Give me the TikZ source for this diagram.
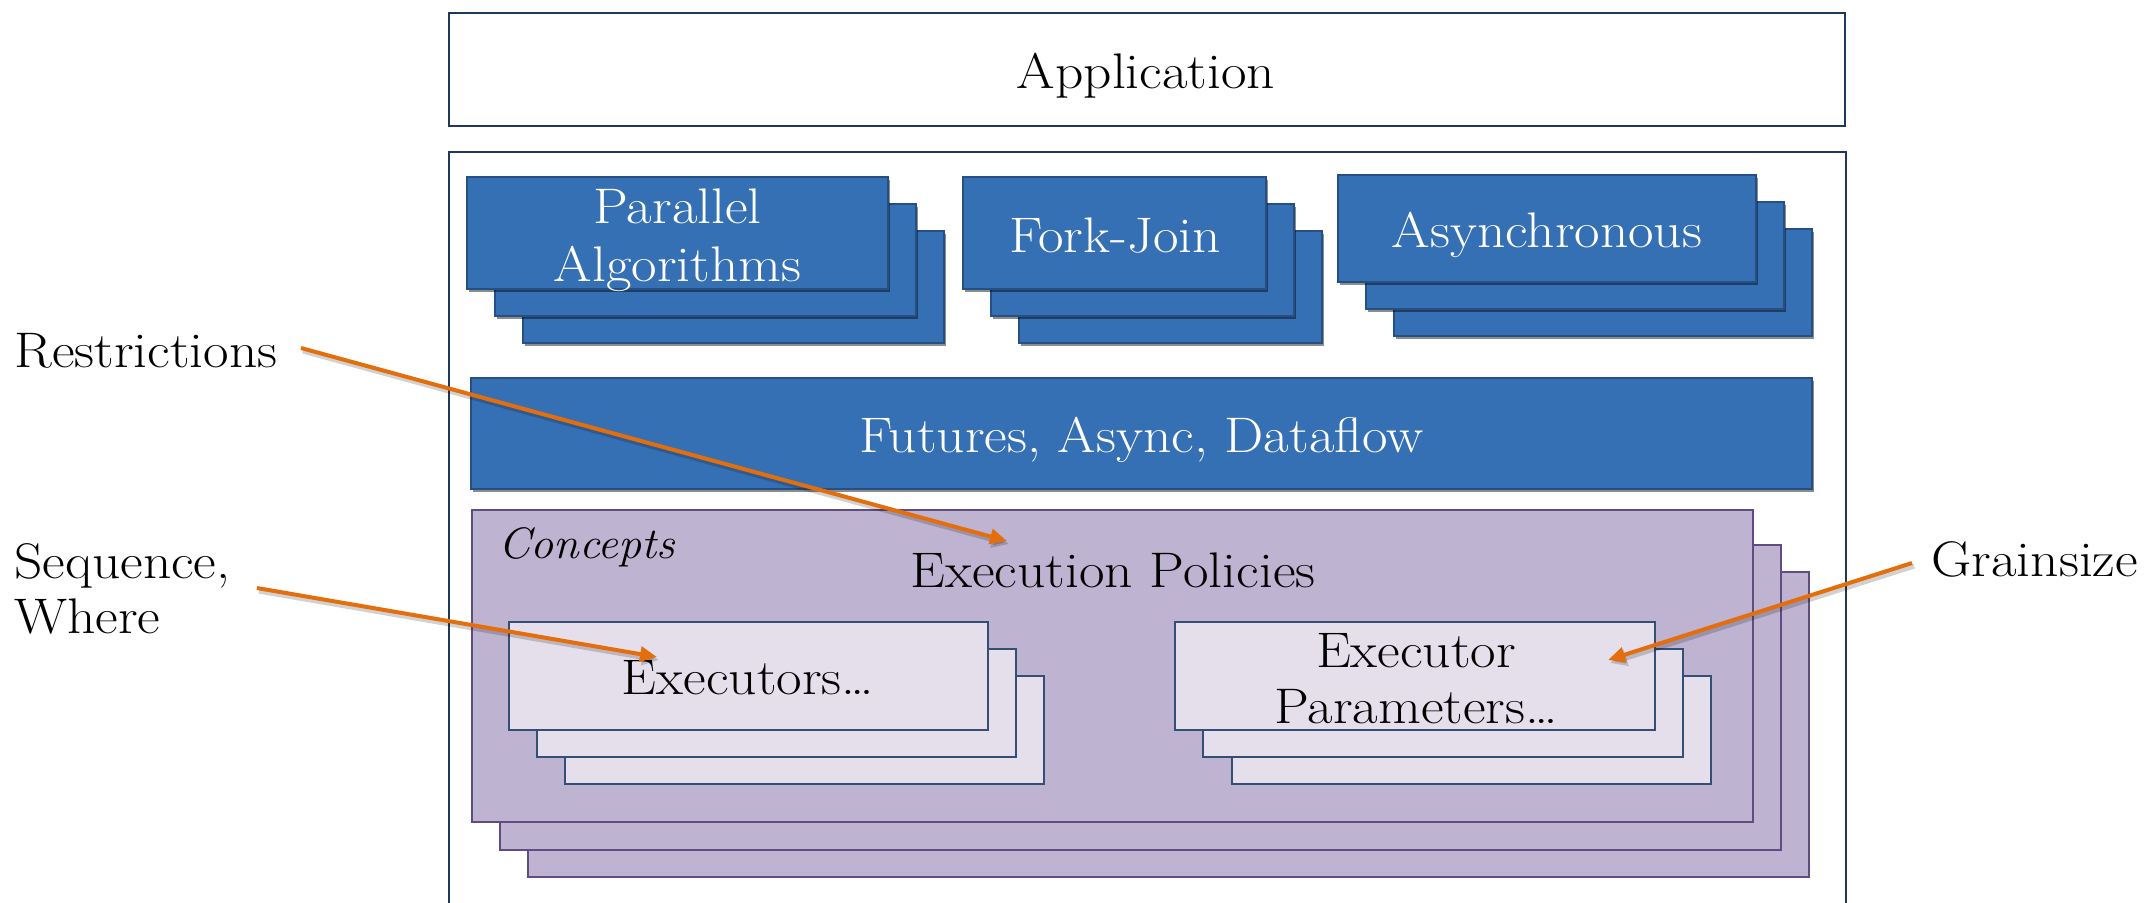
\documentclass[tikz,border=0pt]{standalone}
\usepackage{graphicx}
\usetikzlibrary{shadows,arrows.meta}
\definecolor{bluefill}{RGB}{54,112,180}
\definecolor{blueline}{RGB}{38,80,132}
\definecolor{navy}{RGB}{31,56,94}
\definecolor{purfill}{RGB}{190,179,209}
\definecolor{purline}{RGB}{96,76,130}
\definecolor{lightfill}{RGB}{229,223,236}
\definecolor{lightline}{RGB}{52,78,118}
\definecolor{orangeA}{RGB}{228,110,12}
\newcommand\layerbox[6]{%
  \node[#6, minimum width={(#4-#2)*0.5pt}, minimum height={(#5-#3)*0.5pt}]
    (#1) at ({(#2+#4)/2},{(#3+#5)/2}) {};}
\newcommand\widetext[1]{\scalebox{1.11}[1]{#1}}
\tikzset{
  bigfont/.style={font=\fontsize{25}{28}\selectfont},
  framebox/.style={draw=navy, line width=1.2pt, fill=white, inner sep=0pt},
  bluebox/.style={draw=blueline, line width=0.6pt, fill=bluefill, inner sep=0pt,
    drop shadow={shadow xshift=1pt, shadow yshift=-1.6pt, opacity=0.45, fill=black}},
  purbox/.style={draw=purline, line width=0.8pt, fill=purfill, inner sep=0pt},
  lightbox/.style={draw=lightline, line width=0.8pt, fill=lightfill, inner sep=0pt},
  label/.style={inner sep=0pt, bigfont, anchor=base},
  whitelabel/.style={label, text=white},
  callout/.style={draw=orangeA, line width=2pt, -{Triangle[length=8.5pt,width=7.5pt]}},
  calloutshadow/.style={draw=black, opacity=0.18, line width=2.6pt, -{Triangle[length=8.5pt,width=8pt]}}
}
\begin{document}
\begin{tikzpicture}[x=0.5pt,y=-0.5pt]
\useasboundingbox (0,0) rectangle (2146,902);
\clip (0,0) rectangle (2146,902);
\fill[white] (0,0) rectangle (2146,902);

% top application box
\layerbox{app}{449}{13}{1845}{126}{framebox}
\node[label] (apptext) at (1146,88) {\widetext{Application}};
% outer box
\layerbox{outer}{449}{152}{1846}{960}{framebox}

% parallel algorithms stack
\layerbox{pa3}{523}{231}{944}{343}{bluebox}
\layerbox{pa2}{495}{204}{916}{316}{bluebox}
\layerbox{pa}{467}{177}{888}{289}{bluebox}
\node[whitelabel] (patext1) at (677.5,223) {\widetext{Parallel}};
\node[whitelabel] (patext2) at (677.5,281) {\widetext{Algorithms}};
% fork-join stack
\layerbox{fj3}{1019}{231}{1322}{343}{bluebox}
\layerbox{fj2}{991}{204}{1294}{316}{bluebox}
\layerbox{fj}{963}{177}{1266}{289}{bluebox}
\node[whitelabel] (fjtext) at (1115,252) {\widetext{Fork-Join}};
% asynchronous stack
\layerbox{as3}{1394}{229}{1812}{336}{bluebox}
\layerbox{as2}{1366}{202}{1784}{309}{bluebox}
\layerbox{as}{1338}{175}{1756}{282}{bluebox}
\node[whitelabel] (astext) at (1547,247) {\widetext{Asynchronous}};

% futures bar
\layerbox{fut}{471}{378}{1812}{489}{bluebox}
\node[whitelabel] (futtext) at (1141.5,452) {\widetext{Futures, Async, Dataflow}};

% concepts stack
\layerbox{ep3}{528}{572}{1809}{877}{purbox}
\layerbox{ep2}{500}{545}{1781}{850}{purbox}
\layerbox{ep}{472}{510}{1753}{822}{purbox}
\node[label, anchor=base west, font=\fontsize{22}{26}\selectfont\itshape] (concepts) at (498,558) {\scalebox{1.05}[1]{Concepts}};
\node[label] (eptext) at (1113,587) {\widetext{Execution Policies}};

% executors stack
\layerbox{ex3}{565}{676}{1044}{784}{lightbox}
\layerbox{ex2}{537}{649}{1016}{757}{lightbox}
\layerbox{ex}{509}{622}{988}{730}{lightbox}
\node[label] (extext) at (748,694) {\widetext{Executors\ldots}};
% executor parameters stack
\layerbox{xp3}{1232}{676}{1711}{784}{lightbox}
\layerbox{xp2}{1203}{649}{1683}{757}{lightbox}
\layerbox{xp}{1175}{622}{1655}{730}{lightbox}
\node[label] (xptext1) at (1416,667) {\widetext{Executor}};
\node[label] (xptext2) at (1416,723) {\widetext{Parameters\ldots}};

% side labels
\node[label, anchor=base west] (restr) at (14,367) {\widetext{Restrictions}};
\node[label, anchor=base west] (seq1) at (14,578) {\widetext{Sequence,}};
\node[label, anchor=base west] (seq2) at (14,633) {\widetext{Where}};
\node[label, anchor=base west] (grain) at (1931,576) {\widetext{Grainsize}};

% callout end points
\coordinate (rs) at (301,348);
\coordinate (re) at (1007,541);
\coordinate (ss) at (257,588);
\coordinate (se) at (657,657);
\coordinate (gs) at (1912,563);
\coordinate (ge) at (1608,660);

\foreach \a/\b in {rs/re, ss/se, gs/ge}{
  \draw[calloutshadow] ([shift={(2,3)}]\a) -- ([shift={(2,3)}]\b);
  \draw[callout] (\a) -- (\b);
}
\end{tikzpicture}
\end{document}
